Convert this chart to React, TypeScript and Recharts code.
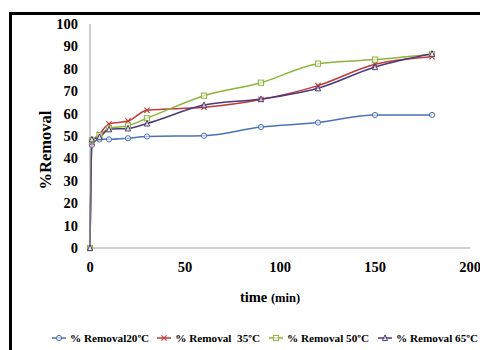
import React from "react";
import { LineChart, Line, XAxis, YAxis, Legend } from "recharts";

const times = [0, 1, 5, 10, 20, 30, 60, 90, 120, 150, 180];
const removal20 = [0, 46, 48.5, 48.5, 49, 49.8, 50.1, 54, 56, 59.4, 59.4];
const removal35 = [0, 47, 50.8, 55.4, 56.7, 61.5, 62.8, 66.3, 72.5, 82, 85.4];
const removal50 = [0, 48, 50.4, 53.4, 54.6, 57.9, 68, 73.8, 82.3, 84.1, 86.5];
const removal65 = [0, 48.5, 49.5, 53, 53.4, 55.6, 63.8, 66.5, 71.3, 80.8, 86.7];
const xTicks = [0, 50, 100, 150, 200];
const yTicks = [0, 10, 20, 30, 40, 50, 60, 70, 80, 90, 100];

const seriesNames = ["% Removal20ºC", "% Removal  35ºC", "% Removal 50ºC", "% Removal 65ºC"];
const seriesColors = ["#4a72b8", "#c0393b", "#8db33a", "#4b3a7a"];
const seriesShapes = ["circle", "cross", "square", "triangle"];
const seriesKeys = ["r20", "r35", "r50", "r65"];

const data = times.map((t, i) => ({
  t,
  r20: removal20[i],
  r35: removal35[i],
  r50: removal50[i],
  r65: removal65[i],
}));

const FONT = "Liberation Serif, Times New Roman, serif";

function Marker({ shape, color, cx, cy }: { shape: string; color: string; cx: number; cy: number }) {
  const s = 2.6;
  if (shape === "circle") return <circle cx={cx} cy={cy} r={s} fill="#fff" fillOpacity={0.6} stroke={color} strokeWidth={1} />;
  if (shape === "square")
    return <rect x={cx - s} y={cy - s} width={2 * s} height={2 * s} fill="#fff" fillOpacity={0.6} stroke={color} strokeWidth={1} />;
  if (shape === "triangle")
    return (
      <polygon
        points={`${cx},${cy - s - 0.5} ${cx - s},${cy + s} ${cx + s},${cy + s}`}
        fill="#fff"
        fillOpacity={0.6}
        stroke={color}
        strokeWidth={1}
      />
    );
  return (
    <g stroke={color} strokeWidth={1.1}>
      <line x1={cx - s} y1={cy - s} x2={cx + s} y2={cy + s} />
      <line x1={cx - s} y1={cy + s} x2={cx + s} y2={cy - s} />
    </g>
  );
}

const makeDot = (shape: string, color: string) => (props: any) => {
  const { cx, cy, index } = props;
  if (cx == null || cy == null) return <g key={index} />;
  return (
    <g key={index}>
      <Marker shape={shape} color={color} cx={cx} cy={cy} />
    </g>
  );
};

const XTick = (props: any) => {
  const { x, y, payload } = props;
  return (
    <text
      x={x}
      y={y + 22}
      textAnchor="middle"
      style={{ fontFamily: FONT, fontWeight: 700, fontSize: 14.5, fill: "#000" }}
    >
      {payload.value}
    </text>
  );
};

const YTick = (props: any) => {
  const { x, y, payload } = props;
  return (
    <text
      x={x - 10}
      y={y + 5}
      textAnchor="end"
      style={{ fontFamily: FONT, fontWeight: 700, fontSize: 14.5, fill: "#000" }}
    >
      {payload.value}
    </text>
  );
};

const XLabel = (props: any) => {
  const vb = props.viewBox || { x: 82, y: 240, width: 380, height: 60 };
  return (
    <text
      x={vb.x + vb.width / 2 - 10}
      y={vb.y + 54}
      textAnchor="middle"
      style={{ fontFamily: FONT, fontWeight: 700, fill: "#000" }}
    >
      <tspan style={{ fontSize: 14.5 }}>time </tspan>
      <tspan style={{ fontSize: 12.5 }}>(min)</tspan>
    </text>
  );
};

const YLabel = () => {
  return (
    <text
      x={37}
      y={142}
      transform="rotate(-90 37 142)"
      textAnchor="middle"
      dominantBaseline="central"
      style={{ fontFamily: FONT, fontWeight: 700, fontSize: 16.5, fill: "#000" }}
    >
      %Removal
    </text>
  );
};

const LegendContent = () => (
  <div
    style={{
      display: "flex",
      alignItems: "center",
      paddingLeft: 44,
      fontFamily: FONT,
      fontWeight: 700,
      fontSize: 11.2,
      color: "#000",
      whiteSpace: "nowrap",
      height: 20,
    }}
  >
    {seriesNames.map((name, i) => (
      <div key={name} style={{ display: "flex", alignItems: "center", marginRight: i === 0 ? 8 : 9, flexShrink: 0 }}>
        <svg width={14} height={10} style={{ marginRight: 4 }}>
          <line x1={0} y1={5} x2={14} y2={5} stroke={seriesColors[i]} strokeWidth={1.5} />
          <Marker shape={seriesShapes[i]} color={seriesColors[i]} cx={7} cy={5} />
        </svg>
        <span style={{ whiteSpace: "pre" }}>{name}</span>
      </div>
    ))}
  </div>
);

export default function App() {
  return (
    <div
      style={{
        position: "fixed",
        left: 8,
        top: 8,
        width: 472,
        height: 342,
        overflow: "hidden",
        background: "#fff",
      }}
    >
      <div
        style={{
          position: "absolute",
          left: 1,
          top: 4,
          width: 700,
          height: 700,
          borderTop: "3px solid #000",
          borderLeft: "3px solid #000",
        }}
      />
      <div style={{ position: "absolute", left: 0, top: 0 }}>
        <LineChart width={472} height={342} data={data} margin={{ top: 16, right: 10, left: 0, bottom: 22 }}>
          <XAxis
            dataKey="t"
            type="number"
            domain={[0, 200]}
            ticks={xTicks}
            interval={0}
            tickLine={false}
            tickSize={0}
            height={60}
            axisLine={{ stroke: "#a0a0a0", strokeWidth: 1 }}
            tick={<XTick />}
            label={<XLabel />}
          />
          <YAxis
            type="number"
            domain={[0, 100]}
            ticks={yTicks}
            interval={0}
            width={82}
            tickLine={false}
            tickSize={0}
            axisLine={{ stroke: "#a0a0a0", strokeWidth: 1 }}
            tick={<YTick />}
            label={<YLabel />}
          />
          <Legend
            layout="vertical"
            align="center"
            verticalAlign="bottom"
            content={<LegendContent />}
            wrapperStyle={{ left: 0, top: 320, bottom: "auto", width: 472, height: 20 }}
          />
          {seriesKeys.map((k, i) => (
            <Line
              key={k}
              dataKey={k}
              name={seriesNames[i]}
              type="monotone"
              stroke={seriesColors[i]}
              strokeWidth={1.5}
              dot={makeDot(seriesShapes[i], seriesColors[i])}
              isAnimationActive={false}
            />
          ))}
        </LineChart>
      </div>
    </div>
  );
}
